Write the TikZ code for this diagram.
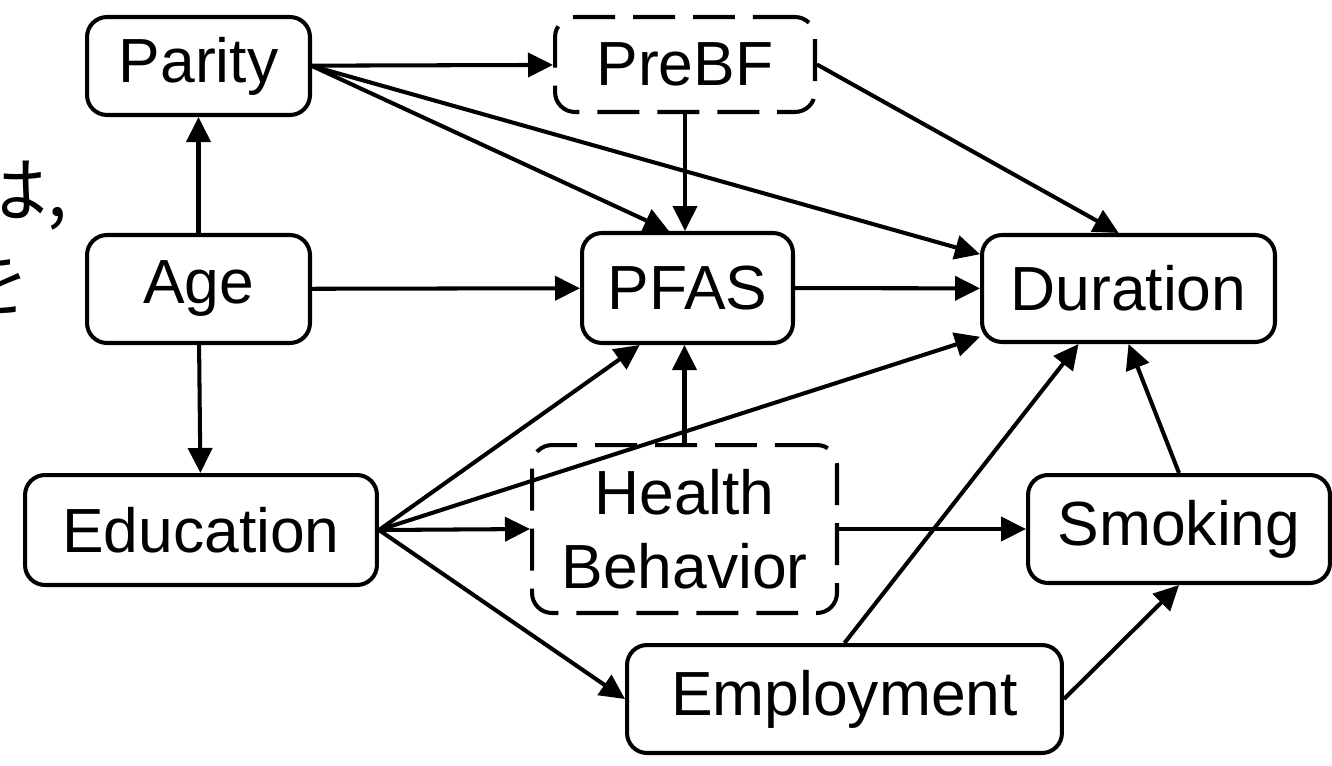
\documentclass[tikz,border=0pt]{standalone}
\usepackage{fontspec}
\setmainfont{Liberation Sans}
\newfontfamily\jpfont{Noto Sans CJK JP}
\usetikzlibrary{arrows.meta}

\begin{document}
\begin{tikzpicture}[
    x=0.02cm, y=-0.02cm,
    block/.style={rectangle, draw, line width=2.3pt, rounded corners=0.4cm, inner sep=0pt, align=center, font=\fontsize{35.5}{42}\selectfont},
    hidden/.style={block, dashed, dash pattern=on 0.84cm off 0.36cm},
    kana/.style={inner sep=0pt, anchor=base east, font=\jpfont\fontsize{41}{48}\selectfont},
    arrow/.style={-{Triangle[length=0.5cm, width=0.48cm]}, line width=2.3pt}
]
\clip (0,0) rectangle (1332,765);

% cut-off text at the left edge
\node (kanaha) [kana] at (68,216) {は,};
\node (kanawo) [kana] at (30,310) {を};

\node (parity) [block, minimum width=4.46cm, minimum height=1.96cm] at (198.5,66) {Parity};
\node (prebf) [hidden, minimum width=5.2cm, minimum height=1.9cm] at (685,64.5) {PreBF};
\node (age) [block, minimum width=4.46cm, minimum height=2.16cm] at (198.5,289) {Age};
\node (pfas) [block, minimum width=4.22cm, minimum height=2.2cm] at (687.5,288) {PFAS};
\node (dur) [block, minimum width=5.86cm, minimum height=2.14cm] at (1128.5,288.5) {Duration};
\node (edu) [block, minimum width=7.04cm, minimum height=2.2cm] at (201,530) {Education};
\node (hb) [hidden, minimum width=6.1cm, minimum height=3.36cm] at (684.5,529) {Health\\Behavior};
\node (smoke) [block, minimum width=6.04cm, minimum height=2.16cm] at (1179,529) {Smoking};
\node (emp) [block, minimum width=8.7cm, minimum height=2.16cm] at (844.5,699) {Employment};

\draw [arrow] (age) -- (parity);
\draw [arrow] (age) -- (edu);
\draw [arrow] (age) -- (pfas);
\draw [arrow] (parity) -- (prebf);
\draw [arrow] (parity.east) -- (pfas.108);
\draw [arrow] (parity.east) -- (dur.167);
\draw [arrow] (prebf.south) -- (prebf.south |- pfas.north);
\draw [arrow] (prebf.east) -- (dur.100);
\draw [arrow] (pfas) -- (dur);
\draw [arrow] (edu.east) -- (pfas.230);
\draw [arrow] (edu.east) -- (dur.198);
\draw [arrow] (edu.east) -- (hb.west);
\draw [arrow] (edu.east) -- (emp.west);
\draw [arrow] (hb.north) -- (hb.north |- pfas.south);
\draw [arrow] (hb) -- (smoke);
\draw [arrow] (emp.north) -- (dur.228);
\draw [arrow] (emp.east) -- (smoke.south);
\draw [arrow] (smoke.north) -- (dur.south);

\end{tikzpicture}
\end{document}
